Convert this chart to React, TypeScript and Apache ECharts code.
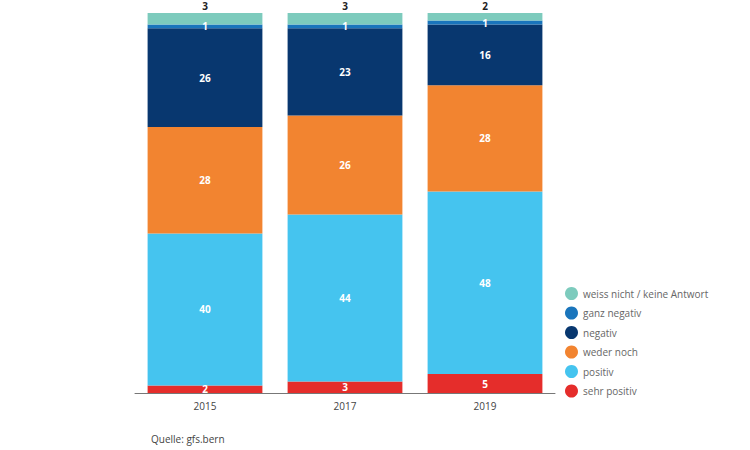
import React, { useEffect, useRef } from "react";
import * as echarts from "echarts";

const years = ["2015", "2017", "2019"];
const sehrPositiv = [2, 3, 5];
const positiv = [40, 44, 48];
const wederNoch = [28, 26, 28];
const negativ = [26, 23, 16];
const ganzNegativ = [1, 1, 1];
const weissNicht = [3, 3, 2];

const seriesDefs = [
  { name: "sehr positiv", data: sehrPositiv, color: "#e52d2b" },
  { name: "positiv", data: positiv, color: "#45c4ef" },
  { name: "weder noch", data: wederNoch, color: "#f28430" },
  { name: "negativ", data: negativ, color: "#08376f" },
  { name: "ganz negativ", data: ganzNegativ, color: "#1a75bc" },
  { name: "weiss nicht / keine Antwort", data: weissNicht, color: "#7dcbbd" },
];

const font = "'Open Sans', 'Noto Sans', sans-serif";

const App: React.FC = () => {
  const chartRef = useRef<HTMLDivElement>(null);

  useEffect(() => {
    if (!chartRef.current) return;
    const chart = echarts.init(chartRef.current, undefined, { renderer: "svg" });

    const option: echarts.EChartsOption = {
      animation: false,
      textStyle: { fontFamily: font },
      title: {
        text: "Quelle: gfs.bern",
        left: 146,
        top: 429,
        textStyle: { fontSize: 10, fontWeight: "normal", color: "#444", fontFamily: font },
      },
      legend: {
        orient: "vertical",
        left: 560,
        top: 282,
        icon: "circle",
        itemWidth: 13,
        itemHeight: 13,
        itemGap: 6.5,
        data: [...seriesDefs].reverse().map((s) => s.name),
        textStyle: { fontSize: 10, color: "#666", fontFamily: font },
      },
      grid: { left: 135, right: 195, top: 13, bottom: 57 },
      xAxis: {
        type: "category",
        data: years,
        axisLine: { lineStyle: { color: "#777" } },
        axisTick: { show: false },
        axisLabel: { color: "#444", fontSize: 10, margin: 8 },
      },
      yAxis: {
        type: "value",
        min: 0,
        max: 100,
        show: false,
        splitLine: { show: false },
      },
      series: seriesDefs.map((s, i) => {
        const isTop = i === seriesDefs.length - 1;
        return {
          name: s.name,
          type: "bar" as const,
          stack: "total",
          data: s.data,
          barWidth: "82%",
          itemStyle: { color: s.color },
          label: {
            show: true,
            position: isTop ? ("top" as const) : ("inside" as const),
            distance: 2,
            color: isTop ? "#222" : "#fff",
            fontWeight: "bold" as const,
            fontSize: 10,
            fontFamily: font,
          },
        };
      }),
    };

    chart.setOption(option);
    return () => chart.dispose();
  }, []);

  return (
    <div
      ref={chartRef}
      style={{ position: "absolute", left: 0, top: 0, width: 750, height: 450 }}
    />
  );
};

export default App;
